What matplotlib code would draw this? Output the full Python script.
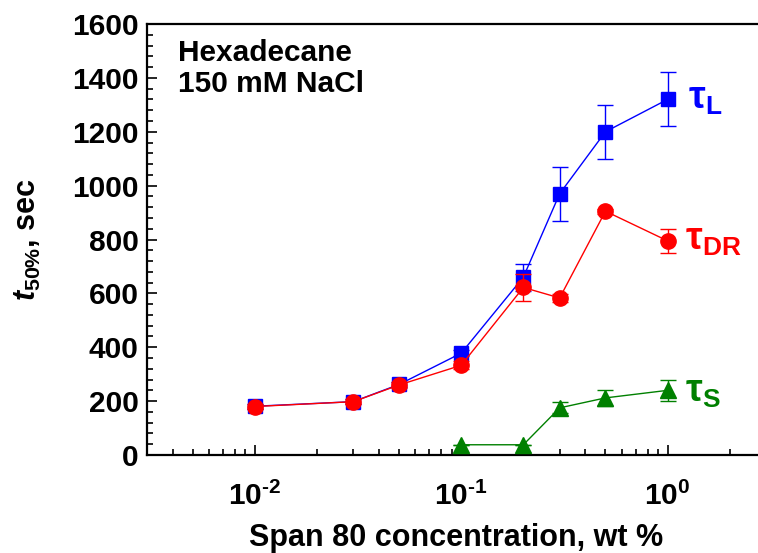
import numpy as np
import matplotlib
matplotlib.use("Agg")
import matplotlib.pyplot as plt
from matplotlib.ticker import MultipleLocator, LogLocator, NullFormatter

plt.rcParams["font.family"] = ["Liberation Sans", "DejaVu Sans"]
plt.rcParams["font.weight"] = "bold"
plt.rcParams["axes.labelweight"] = "bold"
plt.rcParams["mathtext.fontset"] = "custom"
plt.rcParams["mathtext.rm"] = "Liberation Sans:bold"
plt.rcParams["mathtext.bf"] = "Liberation Sans:bold"
plt.rcParams["mathtext.it"] = "Liberation Sans:bold:italic"
plt.rcParams["mathtext.sf"] = "Liberation Sans:bold"

# ── data ──────────────────────────────────────────────────────────────
conc = [0.01, 0.03, 0.05, 0.1, 0.2, 0.3, 0.5, 1.0]

tau_L     = [181, 198, 262, 378, 660, 970, 1200, 1320]
tau_L_err = [10, 10, 10, 12, 50, 100, 100, 100]

tau_DR     = [180, 198, 260, 333, 622, 583, 905, 795]
tau_DR_err = [10, 10, 10, 15, 50, 15, 10, 45]

conc_S    = [0.1, 0.2, 0.3, 0.5, 1.0]
tau_S     = [38, 38, 175, 212, 240]
tau_S_err = [0, 0, 20, 30, 40]

x_ticks  = [0.01, 0.1, 1.0]
x_labels = [r"$10^{\text{-2}}$", r"$10^{\text{-1}}$", r"$10^{0}$"]

# ── figure ────────────────────────────────────────────────────────────
fig = plt.figure(figsize=(7.58, 5.53), dpi=100)
ax = fig.add_axes([147 / 758, 98 / 553, 619 / 758, 431 / 553])

ax.errorbar(conc, tau_L, yerr=tau_L_err, color="#0000ff", marker="s",
            markersize=10, linewidth=1, elinewidth=1, capsize=6, capthick=1,
            zorder=3)
ax.errorbar(conc, tau_DR, yerr=tau_DR_err, color="#ff0000", marker="o",
            markersize=11, linewidth=1, elinewidth=1, capsize=6, capthick=1,
            zorder=4)
ax.errorbar(conc_S, tau_S, yerr=tau_S_err, color="#008000", marker="^",
            markersize=11, linewidth=1, elinewidth=1, capsize=6, capthick=1,
            zorder=3)

ax.set_xscale("log")
ax.set_xlim(0.003, 3)
ax.set_ylim(0, 1600)

ax.set_xticks(x_ticks)
ax.set_xticklabels(x_labels)
ax.xaxis.set_minor_locator(LogLocator(base=10, subs=np.arange(2, 10)))
ax.xaxis.set_minor_formatter(NullFormatter())
ax.yaxis.set_major_locator(MultipleLocator(200))
ax.yaxis.set_minor_locator(MultipleLocator(40))

ax.spines["right"].set_visible(False)
for side in ["left", "bottom", "top"]:
    ax.spines[side].set_linewidth(1.6)

ax.tick_params(axis="both", which="both", direction="in", width=1.2,
               labelsize=21.5, top=False, right=False)
ax.tick_params(axis="both", which="major", length=7)
ax.tick_params(axis="both", which="minor", length=4.5)
ax.tick_params(axis="x", which="major", pad=19)
ax.tick_params(axis="y", which="major", pad=6)

ax.set_xlabel("Span 80 concentration, wt %", fontsize=22, fontweight="bold")
ax.xaxis.set_label_coords(0.5, -0.158)
ax.set_ylabel(r"$\mathit{t}_{50\%}$, sec", fontsize=22, fontweight="bold")
ax.yaxis.set_label_coords(-0.168, 0.5)

ax.text(0.05, 0.965, "Hexadecane\n150 mM NaCl", transform=ax.transAxes,
        fontsize=21.5, va="top", ha="left", linespacing=1.15)

# curve labels
ax.text(1.25, 1320, r"$\mathrm{\tau}_{\mathrm{L}}$", color="#0000ff",
        fontsize=27, va="center")
ax.text(1.22, 800, r"$\mathrm{\tau}_{\mathrm{DR}}$", color="#ff0000",
        fontsize=27, va="center")
ax.text(1.22, 235, r"$\mathrm{\tau}_{\mathrm{S}}$", color="#008000",
        fontsize=27, va="center")

fig.savefig("out.png", dpi=100)
